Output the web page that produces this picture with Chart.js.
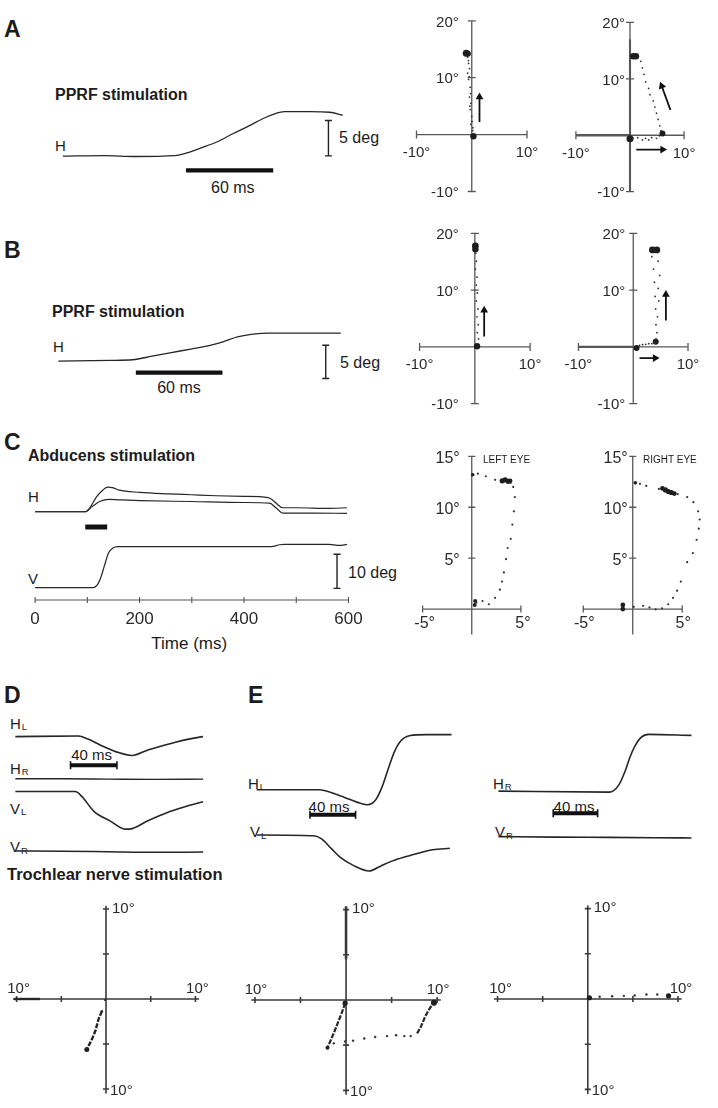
<!DOCTYPE html>
<html><head><meta charset="utf-8"><title>Eye movement responses to brainstem stimulation</title>
<script src="https://cdn.jsdelivr.net/npm/chart.js@4.4.1/dist/chart.umd.min.js"></script>
<style>
html,body{margin:0;padding:0;background:#fff;}
#root{position:relative;width:718px;height:1108px;overflow:hidden;background:#fff;font-family:"Liberation Sans",Arial,Helvetica,sans-serif;color:#1c1c1c;}
#root canvas{position:absolute;}
.t{position:absolute;white-space:nowrap;line-height:1;}
.s{font-size:9.5px;position:relative;top:1.5px;margin-left:1px;color:#1c1c1c;}
</style></head><body><div id="root"></div>
<script>
// ================= DATA =================
// Panel A : horizontal position trace (time ms, deg)
const A_T = [0, 28, 50, 77, 84.7, 89.1, 94.7, 105.8, 116.9, 128, 139, 145.8, 152.4, 170.2, 183.5, 192.5];
const A_H = [-0.04, 0.04, -0.08, 0.04, 0.38, 0.68, 1.1, 1.96, 3.12, 4.23, 5.38, 5.94, 6.24, 6.24, 6.15, 5.73];
// Panel A scatter (left eye-plot)
const AL_X = [-0.75, -0.6, -0.58, -0.41, -0.75, -0.45, -0.58, -0.29, -0.2, -0.41, -0.17, -0.35, -0.29, 0, 0.05, -0.17, 0.2, 0.17];
const AL_Y = [13.6, 13.0, 12.5, 11.6, 10.8, 10.2, 9.7, 8.3, 7.2, 6.6, 5.5, 5.0, 4.4, 3.2, 2.3, 1.8, 1.2, 0.7];
const AL_BX = [-1.0, -0.7, 0.3], AL_BY = [14.3, 14.2, -0.3];
// Panel A scatter (right eye-plot)
const AR_X = [2.0, 2.3, 2.6, 2.9, 3.45, 3.7, 4.3, 4.6, 4.9, 5.2, 5.5, 5.75, 0.57, 1.43, 2.3, 2.87, 3.45, 4.0, 4.9, 5.45];
const AR_Y = [13.1, 11.95, 10.8, 9.45, 8.3, 7.2, 6.1, 5.0, 3.9, 2.8, 1.67, 0.83, -0.55, -0.43, -0.83, -0.55, -0.83, -0.43, -0.55, -0.1];
const AR_BX = [0.6, 1.1, 6.0, 0.0], AR_BY = [14.0, 14.0, 0.3, -0.6];

// Panel B : horizontal trace
const B_T = [0, 35.8, 51.5, 64.9, 78.3, 91.7, 105.2, 114.1, 123, 127.5, 136.4, 145.4, 195.6];
const B_H = [0, 0.13, 0.22, 0.75, 1.3, 1.83, 2.4, 2.92, 3.61, 3.83, 4.13, 4.22, 4.22];
const BL_X = [0.17, 0.28, 0.1, 0.39, 0.28, 0.45, 0.28, 0.56, 0.39, 0.62, 0.45, 0.67];
const BL_Y = [16.5, 15.1, 13.7, 12.3, 10.9, 9.5, 8.1, 6.7, 5.3, 3.9, 2.5, 1.4];
const BL_BX = [0.1, 0.1, 0.4], BL_BY = [17.8, 17.2, 0.1];
const BR_X = [3.4, 4.54, 3.7, 4.83, 3.87, 4.54, 4.0, 4.66, 4.09, 4.43, 4.15, 4.32, 4.15, 1.14, 1.7, 2.28, 2.85, 3.4, 4.0];
const BR_Y = [15.9, 15.1, 13.7, 12.6, 11.4, 10.3, 8.9, 8.1, 6.7, 5.3, 3.9, 2.5, 1.4, 0.28, 0.39, 0.45, 0.56, 0.56, 0.67];
const BR_BX = [3.5, 4.3, 4.1, 0.6], BR_BY = [17.1, 17.1, 0.9, -0.2];

// Panel C : two horizontal traces and one vertical trace (ms, deg)
const C_T_H1 = [0, 96, 105, 117.5, 130, 139, 150, 160.8, 200.7, 254.7, 299, 347, 400, 446, 455, 464.7, 474, 501.5, 563, 597];
const C_H1   = [0, 0, 1.2, 4.36, 6.4, 7.25, 7.0, 6.35, 5.7, 5.26, 4.99, 4.7, 4.5, 4.17, 3.4, 2.07, 1.17, 1.17, 1.0, 1.17];
const C_T_H2 = [0, 96, 110, 123.7, 142, 160, 200.7, 299, 400, 449, 461, 474, 530, 597];
const C_H2   = [0, 0, 1.6, 3.0, 3.62, 3.5, 3.27, 3.0, 2.72, 2.53, 1.17, -0.38, -0.42, -0.46];
const C_T_V  = [0, 111, 120.6, 126.8, 133, 141, 148.4, 157.7, 254.7, 452.5, 468, 477, 563, 582, 597];
const C_V    = [0, 0, 1.2, 3.45, 6.6, 10.3, 11.6, 12.07, 12.07, 12.07, 12.6, 12.7, 12.7, 12.4, 12.7];
const C_STIM = [96, 138];
const TIME_TICKS = [0, 100, 200, 300, 400, 500, 600];
const TIME_LABEL_TICKS = [0, 200, 400, 600];
const TIME_LABELS = ['0', '200', '400', '600'];
// Panel C eye-plots
const CL_X = [0.48, 1.1, 1.74, 2.38, 2.86, 3.08, 3.27, 3.49, 3.65, 3.97, 4.13, 4.29, 4.38, 4.22, 3.97, 2.38, 1.43, 0.63];
const CL_Y = [0.63, 0.79, 0.47, 1.1, 1.9, 2.7, 3.6, 4.9, 6.0, 6.9, 8.3, 9.6, 11.0, 12.0, 12.4, 12.7, 13.05, 13.3];
const CL_BX = [3.1, 3.4, 3.7, 3.9, 0.3, 0.35, 0.1], CL_BY = [12.6, 12.7, 12.55, 12.6, 0.4, 0.8, 13.2];
const CR_X = [0.1, 1.05, 1.69, 2.32, 2.95, 3.59, 4.07, 4.48, 4.86, 5.5, 6.07, 6.45, 6.67, 6.76, 6.6, 6.13, 5.5, 4.54, 2.64, 1.37, 0.73];
const CR_Y = [0.22, 0.32, 0.16, -0.03, 0.07, 0.47, 1.1, 1.8, 2.7, 4.6, 5.5, 6.8, 7.9, 8.8, 9.6, 10.5, 11.0, 11.3, 11.8, 12.1, 12.3];
const CR_BX = [3.0, 3.3, 3.6, 3.9, 4.2, -1.0, -1.0, 0.26], CR_BY = [11.85, 11.7, 11.55, 11.45, 11.35, 0.0, 0.4, 12.4];

// Panel D : traces (ms, deg)
const D_T_HL = [0, 54.4, 62.6, 73.5, 87.1, 100.7, 114.3, 133.3, 149.6, 161.9];
const D_HL   = [-0.05, 0.05, -0.5, -1.6, -2.8, -3.45, -2.45, -1.33, -0.5, -0.05];
const D_T_VL = [0, 51.7, 57.1, 68, 81.6, 95.3, 100.7, 114.3, 133.3, 149.6, 161.9];
const D_VL   = [0, 0, -0.83, -3.6, -5.27, -6.77, -6.67, -5.27, -3.6, -2.5, -1.83];
const D_T_FLAT = [0, 40, 80, 120, 162];
const D_HR = [0.05, 0.05, 0, -0.05, 0];
const D_VR = [0.15, 0.1, 0, -0.1, -0.05];
// Panel D eye-plot
const DS_X = [-0.1, -0.46, -0.82, -1.18, -1.54, -2.15];
const DS_Y = [-0.1, -1.35, -2.2, -3.5, -4.4, -5.6];

// Panel E : traces
const E_T_HL = [0, 54.2, 73.6, 93, 97.2, 104.2, 109.7, 115.3, 120.8, 126.3, 134.7, 148.6, 170.8];
const E_HL   = [0, 0, -1.1, -2.55, -2.67, -1.83, 0.38, 3.7, 6.8, 8.7, 9.67, 9.83, 9.83];
const E_T_VL = [0, 50, 56.9, 65.3, 73.6, 84.7, 98.6, 109.7, 123.6, 137.5, 154.2, 169.4];
const E_VL   = [0.1, -0.05, -0.6, -2.3, -3.95, -5.33, -6.33, -5.33, -4.2, -3.4, -2.55, -2.28];
const E_T_HR = [0, 99.7, 108.3, 114, 118.3, 122.6, 128.2, 135.4, 173.8];
const E_HR   = [0, -0.17, 1.1, 3.6, 6.1, 8.07, 9.7, 10.28, 10.1];
const E_T_VR = [0, 50, 100, 140, 173.8];
const E_VR   = [0.1, 0, -0.05, -0.1, -0.15];
// Panel E eye-plots
const EL1_X = [-0.1, -0.5, -1.2, -2.04], EL1_Y = [-0.35, -1.5, -3.3, -5.3];
const EL_DX = [-1.34, -0.1, 0.77, 2.0, 3.2, 4.5, 5.5, 6.4, 7.1], EL_DY = [-4.8, -4.6, -4.5, -4.26, -4.1, -4.0, -3.9, -4.0, -4.0];
const EL2_X = [7.8, 8.2, 8.7, 9.2, 9.65], EL2_Y = [-3.7, -3.0, -1.8, -0.9, -0.3];
const ER_X = [1.32, 2.7, 4.0, 5.2, 6.5, 7.7], ER_Y = [0.25, 0.3, 0.35, 0.4, 0.5, 0.5];
const ER_BX = [0.18, 8.95], ER_BY = [0.14, 0.35];

// Tick values and tick labels
const AB_X_TICKS = [-10, 10], AB_X_LABELS = ['-10°', '10°'];
const AB_Y_TICKS = [20, 10, -10], AB_Y_LABELS = ['20°', '10°', '-10°'];
const C_X_TICKS = [-5, 5], C_X_LABELS = ['-5°', '5°'];
const C_Y_TICKS = [15, 10, 5], C_Y_LABELS = ['15°', '10°', '5°'];
const DE_TICKS = [-10, -5, 5, 10];
const DE_END_TICKS = [-10, 10], DE_END_LABELS = ['10°', '10°'];

// Scale-bar / marker placement (data units of each panel)
const BAR_A = {t: 84.7, y: -2.05, vt: 182.7};
const BAR_B = {t: 53.7, y: -1.73, vt: 185.2, vy: -2.6};
const BAR_C = {vt: 578, vy: -0.2, stimY: 17.8, axisY: -3.6};
const BAR_D = {t: 47.6, y: -5.2};
const BAR_EL = {t: 46.7, y: -4.45};
const BAR_ER = {t: 49.3, y: -4};
const OFF_C_H = 22.3;
const OFF_D = {HR: -7.7, VL: -9.95, VR: -20.8};
const OFF_EL_V = -8.17, OFF_ER_V = -8.33;

// ================= HELPERS =================
const root = document.getElementById('root');
const INK = '#262626';
function txt(html, x, base, o = {}) {
  const fs = o.size || 15;
  const d = document.createElement('div');
  d.className = 't';
  d.innerHTML = html;
  d.style.fontSize = fs + 'px';
  d.style.left = x + 'px';
  d.style.top = (base - 0.8465 * fs) + 'px';
  if (o.bold) d.style.fontWeight = 'bold';
  if (o.color) d.style.color = o.color;
  if (o.align === 'center') d.style.transform = 'translateX(-50%)';
  else if (o.align === 'right') d.style.transform = 'translateX(-100%)';
  root.appendChild(d);
}
const pts = (xs, ys, off = 0) => xs.map((x, i) => ({x, y: ys[i] + off}));
function trace(data, w = 1.3) {
  return {data, showLine: true, borderColor: INK, borderWidth: w, pointRadius: 0, cubicInterpolationMode: 'monotone', fill: false};
}
function seg(data, w, o = {}) {
  return Object.assign({data, showLine: true, borderColor: INK, borderWidth: w, pointRadius: 0, tension: 0, fill: false}, o);
}
function dots(data, r, color = '#333') {
  return {data, showLine: false, pointRadius: r, pointBackgroundColor: color, pointBorderColor: color, pointBorderWidth: 0};
}
function hbar(x0, len, y, w, cap) {
  return {data: [{x: x0, y}, {x: x0 + len, y}], showLine: true, borderColor: '#111', borderWidth: w,
    pointRadius: cap || 0, pointStyle: 'line', pointRotation: 90, pointBorderColor: '#111', pointBorderWidth: 1.6};
}
function vbar(x, y0, len, cap = 3.5) {
  return {data: [{x, y: y0}, {x, y: y0 + len}], showLine: true, borderColor: '#222', borderWidth: 1.4,
    pointRadius: cap, pointStyle: 'line', pointRotation: 0, pointBorderColor: '#222', pointBorderWidth: 1.4};
}
function arrow(x0, y0, x1, y1, rot) {
  return {data: [{x: x0, y: y0}, {x: x1, y: y1}], showLine: true, borderColor: '#111', borderWidth: 1.8,
    pointRadius: [0, 4.5], pointStyle: 'triangle', pointRotation: rot, pointBackgroundColor: '#111', pointBorderColor: '#111', pointBorderWidth: 0};
}
function axesPlugin(spec) {
  return {
    id: 'crossAxes',
    beforeDatasetsDraw(chart) {
      if (!spec) return;
      const ctx = chart.ctx, X = chart.scales.x, Y = chart.scales.y;
      ctx.save();
      ctx.strokeStyle = spec.color || '#555';
      spec.lines.forEach(ln => {
        ctx.lineWidth = ln.width || spec.width || 1.2;
        const tk = ln.tick != null ? ln.tick : (spec.tick || 3.5);
        ctx.beginPath();
        if (ln.axis === 'x') {
          const py = Y.getPixelForValue(ln.at || 0);
          ctx.moveTo(X.getPixelForValue(ln.from), py);
          ctx.lineTo(X.getPixelForValue(ln.to), py);
          (ln.ticks || []).forEach(v => { const px = X.getPixelForValue(v); ctx.moveTo(px, py - tk); ctx.lineTo(px, py + tk); });
        } else {
          const px = X.getPixelForValue(ln.at || 0);
          ctx.moveTo(px, Y.getPixelForValue(ln.from));
          ctx.lineTo(px, Y.getPixelForValue(ln.to));
          (ln.ticks || []).forEach(v => { const py = Y.getPixelForValue(v); ctx.moveTo(px - tk, py); ctx.lineTo(px + tk, py); });
        }
        ctx.stroke();
      });
      ctx.restore();
    }
  };
}
function panel(cfg) {
  const [l, t, w, h] = cfg.box, [ox, oy] = cfg.origin, [sx, sy] = cfg.ppu;
  const cv = document.createElement('canvas');
  cv.width = w; cv.height = h;
  Object.assign(cv.style, {left: l + 'px', top: t + 'px', width: w + 'px', height: h + 'px'});
  root.appendChild(cv);
  const chart = new Chart(cv.getContext('2d'), {
    type: 'scatter',
    data: {datasets: cfg.datasets},
    options: {
      responsive: false, maintainAspectRatio: false, animation: false, events: [], devicePixelRatio: 1,
      layout: {padding: 0},
      scales: {
        x: {type: 'linear', display: false, bounds: 'data', min: (l - ox) / sx, max: (l + w - ox) / sx},
        y: {type: 'linear', display: false, bounds: 'data', min: (oy - t - h) / sy, max: (oy - t) / sy}
      },
      plugins: {legend: {display: false}, tooltip: {enabled: false}, title: {display: false}}
    },
    plugins: [axesPlugin(cfg.axes)]
  });
  const X = chart.scales.x, Y = chart.scales.y;
  (cfg.labels || []).forEach(s => {
    s.values.forEach((v, i) => {
      const px = s.axis === 'x' ? X.getPixelForValue(v) : X.getPixelForValue(s.at || 0);
      const py = s.axis === 'x' ? Y.getPixelForValue(s.at || 0) : Y.getPixelForValue(v);
      txt(s.texts[i], l + px + (s.dx || 0), t + py + (s.dy || 0), {size: s.size || 15, align: s.align || 'center', color: '#2a2a2a'});
    });
  });
  return chart;
}
function abAxes(thickX, thickY) {
  const lines = [
    {axis: 'x', from: -10, to: 10, ticks: AB_X_TICKS},
    {axis: 'y', from: -10, to: 20, ticks: AB_Y_TICKS}
  ];
  if (thickX) lines.push({axis: 'x', from: -10, to: 0, width: 2.3, ticks: []});
  if (thickY) lines.push({axis: 'y', from: -10, to: 17, width: 2.1, ticks: []});
  return {color: '#585858', width: 1.3, tick: 4, lines};
}
function abLabels(ydx, xdy) {
  return [
    {axis: 'x', values: AB_X_TICKS, texts: AB_X_LABELS, dy: xdy, align: 'center'},
    {axis: 'y', values: AB_Y_TICKS, texts: AB_Y_LABELS, dx: ydx, dy: 5.5, align: 'right'}
  ];
}
function deAxes(thickY) {
  const lines = [
    {axis: 'x', from: -10.4, to: 10.4, ticks: DE_TICKS},
    {axis: 'y', from: -10.5, to: 10.35, ticks: DE_TICKS}
  ];
  if (thickY) lines.push({axis: 'y', from: 4.5, to: 10.35, width: 2.6, ticks: []});
  return {color: '#3a3a3a', width: 1.6, tick: 3, lines};
}
function deLabels(xdx) {
  return [
    {axis: 'x', values: DE_END_TICKS, texts: DE_END_LABELS, dx: xdx, dy: -6, align: 'center'},
    {axis: 'y', values: [10], texts: ['10°'], dx: 6, dy: 3.5, align: 'left'},
    {axis: 'y', values: [-10], texts: ['10°'], dx: 4, dy: 5.5, align: 'left'}
  ];
}

// ================= PANEL A =================
txt('A', 4, 37, {size: 23, bold: true});
txt('PPRF stimulation', 55, 100.5, {size: 16, bold: true});
txt('H', 55, 150.7, {size: 15});
txt('5 deg', 339, 143.5, {size: 16});
txt('60 ms', 232.8, 193.3, {size: 16, align: 'center'});
panel({box: [40, 85, 350, 120], origin: [58, 157], ppu: [1.5, 7.8], datasets: [
  trace(pts(A_T, A_H), 1.3),
  hbar(BAR_A.t, 60, BAR_A.y, 4.3, 0),
  vbar(BAR_A.vt, 0, 5)
]});
panel({box: [405, 10, 135, 192], origin: [471.7, 136], ppu: [5.92, 5.97], axes: abAxes(false, false), labels: abLabels(-13, 22), datasets: [
  dots(pts(AL_X, AL_Y), 0.9),
  dots(pts(AL_BX, AL_BY), [3.5, 3, 3.2], '#1e1e1e'),
  arrow(1.4, 2.2, 1.4, 6.6, 0)
]});
panel({box: [560, 10, 140, 192], origin: [630, 136.7], ppu: [5.78, 5.92], axes: abAxes(true, true), labels: abLabels(-5, 22), datasets: [
  dots(pts(AR_X, AR_Y), 0.9),
  dots(pts(AR_BX, AR_BY), [3.2, 3.2, 3, 3.5], '#1e1e1e'),
  arrow(7.47, 4.5, 5.86, 8.73, -20),
  arrow(1.16, -2.53, 6.03, -2.53, 90)
]});

// ================= PANEL B =================
txt('B', 4, 258.5, {size: 23, bold: true});
txt('PPRF stimulation', 52, 318, {size: 16, bold: true});
txt('H', 53, 352, {size: 15});
txt('60 ms', 179, 394, {size: 16, align: 'center'});
txt('5 deg', 340, 368.3, {size: 16});
panel({box: [40, 318, 350, 80], origin: [53.3, 361.7], ppu: [1.49, 7.67], datasets: [
  trace(pts(B_T, B_H), 1.3),
  hbar(BAR_B.t, 60, BAR_B.y, 4.3, 0),
  vbar(BAR_B.vt, BAR_B.vy, 5)
]});
panel({box: [405, 222, 135, 192], origin: [475, 348.3], ppu: [5.92, 5.95], axes: abAxes(false, false), labels: abLabels(-16, 21.7), datasets: [
  dots(pts(BL_X, BL_Y), 0.9),
  dots(pts(BL_BX, BL_BY), [3.4, 3.2, 3.2], '#1e1e1e'),
  arrow(1.69, 1.85, 1.69, 6.44, 0)
]});
panel({box: [565, 222, 135, 192], origin: [633.3, 348.3], ppu: [5.87, 5.95], axes: abAxes(true, false), labels: abLabels(-8, 21.7), datasets: [
  dots(pts(BR_X, BR_Y), 0.9),
  dots(pts(BR_BX, BR_BY), [3.4, 3.4, 3, 3], '#1e1e1e'),
  arrow(5.96, 4.64, 5.96, 9.24, 0),
  arrow(1.14, -1.97, 3.99, -1.97, 90)
]});

// ================= PANEL C =================
txt('C', 4, 450, {size: 23, bold: true});
txt('Abducens stimulation', 28, 461.7, {size: 16, bold: true});
txt('H', 28, 501.7, {size: 15});
txt('V', 28, 583.3, {size: 15});
txt('10 deg', 348, 578.3, {size: 16});
txt('Time (ms)', 189.2, 649, {size: 17, align: 'center'});
txt('LEFT EYE', 483, 463.3, {size: 10});
txt('RIGHT EYE', 643, 463.3, {size: 10});
panel({box: [20, 470, 350, 150], origin: [30, 591], ppu: [0.539, 3.67],
  axes: {color: '#555', width: 1.1, tick: 3, lines: [{axis: 'x', from: 0, to: 600, at: BAR_C.axisY, ticks: TIME_TICKS}]},
  labels: [{axis: 'x', values: TIME_LABEL_TICKS, texts: TIME_LABELS, at: BAR_C.axisY, dy: 24, size: 17, align: 'center'}],
  datasets: [
    trace(pts(C_T_H1, C_H1, OFF_C_H), 1.2),
    trace(pts(C_T_H2, C_H2, OFF_C_H), 1.2),
    trace(pts(C_T_V, C_V), 1.2),
    hbar(C_STIM[0], C_STIM[1] - C_STIM[0], BAR_C.stimY, 5, 0),
    vbar(BAR_C.vt, BAR_C.vy, 10)
  ]});
panel({box: [410, 445, 125, 200], origin: [471.7, 611.7], ppu: [10.5, 10.6],
  axes: {color: '#585858', width: 1.3, tick: 3.5, lines: [{axis: 'x', from: -5, to: 5, ticks: C_X_TICKS}, {axis: 'y', from: -2.5, to: 15, ticks: C_Y_TICKS}]},
  labels: [{axis: 'x', values: C_X_TICKS, texts: C_X_LABELS, dx: 2, dy: 20, size: 16}, {axis: 'y', values: C_Y_TICKS, texts: C_Y_LABELS, dx: -12, dy: 7, size: 16, align: 'right'}],
  datasets: [dots(pts(CL_X, CL_Y), 1.1), dots(pts(CL_BX, CL_BY), [2.6, 2.6, 2.6, 2.4, 2, 2, 1.8], '#1e1e1e')]});
panel({box: [570, 445, 140, 200], origin: [632.3, 611.7], ppu: [10.5, 10.6],
  axes: {color: '#585858', width: 1.3, tick: 3.5, lines: [{axis: 'x', from: -5, to: 5, ticks: C_X_TICKS}, {axis: 'y', from: -2.5, to: 15, ticks: C_Y_TICKS}]},
  labels: [{axis: 'x', values: C_X_TICKS, texts: C_X_LABELS, dx: 1, dy: 20, size: 16}, {axis: 'y', values: C_Y_TICKS, texts: C_Y_LABELS, dx: -5, dy: 7, size: 16, align: 'right'}],
  datasets: [dots(pts(CR_X, CR_Y), 1.1), dots(pts(CR_BX, CR_BY), [2.4, 2.6, 2.6, 2.6, 2.4, 2.4, 2.4, 1.8], '#1e1e1e')]});

// ================= PANEL D =================
txt('D', 4, 703, {size: 23, bold: true});
txt('H<span class="s">L</span>', 10, 728.3, {size: 15});
txt('40 ms', 91.7, 759.3, {size: 15, align: 'center'});
txt('H<span class="s">R</span>', 10, 773.3, {size: 15});
txt('V<span class="s">L</span>', 10, 813.3, {size: 15});
txt('V<span class="s">R</span>', 10, 851.7, {size: 15});
txt('Trochlear nerve stimulation', 7, 880, {size: 16.5, bold: true});
panel({box: [5, 715, 210, 150], origin: [10, 732], ppu: [1.225, 6], datasets: [
  trace(pts(D_T_HL, D_HL), 1.6),
  trace(pts(D_T_FLAT, D_HR, OFF_D.HR), 1.4),
  trace(pts(D_T_VL, D_VL, OFF_D.VL), 1.6),
  trace(pts(D_T_FLAT, D_VR, OFF_D.VR), 1.5),
  hbar(BAR_D.t, 40, BAR_D.y, 4, 4)
]});
panel({box: [3, 895, 207, 208], origin: [106, 999], ppu: [9.3, 9.36], axes: deAxes(false), labels: deLabels(2), datasets: [
  seg(pts(DS_X.slice(1), DS_Y.slice(1)), 2.4, {borderDash: [5, 1.5]}),
  dots(pts(DS_X.slice(0, 2), DS_Y.slice(0, 2)), 1.2),
  seg([{x: -10.3, y: 0}, {x: -7.4, y: 0}], 2.4),
  dots(pts([DS_X[5]], [DS_Y[5]]), 2.5, '#1e1e1e')
]});

// ================= PANEL E =================
txt('E', 248, 703, {size: 23, bold: true});
txt('H<span class="s">L</span>', 248, 788.3, {size: 15});
txt('40 ms', 329, 811.7, {size: 15, align: 'center'});
txt('V<span class="s">L</span>', 250, 836.7, {size: 15});
txt('H<span class="s">R</span>', 493, 788.3, {size: 15});
txt('40 ms', 574, 811.7, {size: 15, align: 'center'});
txt('V<span class="s">R</span>', 495, 836.7, {size: 15});
panel({box: [240, 715, 225, 170], origin: [251.7, 789], ppu: [1.2, 6], datasets: [
  trace(pts(E_T_HL, E_HL), 1.6),
  trace(pts(E_T_VL, E_VL, OFF_EL_V), 1.6),
  hbar(BAR_EL.t, 40, BAR_EL.y, 4, 4)
]});
panel({box: [485, 715, 220, 140], origin: [493.3, 791.7], ppu: [1.17, 6], datasets: [
  trace(pts(E_T_HR, E_HR), 1.6),
  trace(pts(E_T_VR, E_VR, OFF_ER_V), 1.6),
  hbar(BAR_ER.t, 40, BAR_ER.y, 4, 4)
]});
panel({box: [240, 895, 215, 208], origin: [346, 1000], ppu: [9.46, 9.4], axes: deAxes(true), labels: deLabels(1), datasets: [
  seg(pts(EL1_X, EL1_Y), 2.2, {borderDash: [5, 1.5]}),
  dots(pts(EL_DX, EL_DY), 1.2),
  seg(pts(EL2_X, EL2_Y), 2.2, {borderDash: [5, 1.5]}),
  dots(pts([EL1_X[0], EL2_X[4], EL1_X[3]], [EL1_Y[0], EL2_Y[4], EL1_Y[3]]), [2.6, 3, 2], '#1e1e1e')
]});
panel({box: [485, 895, 210, 208], origin: [587.7, 999], ppu: [9.38, 9.4], axes: deAxes(false), labels: deLabels(3), datasets: [
  dots(pts(ER_X, ER_Y), 1.2),
  dots(pts(ER_BX, ER_BY), [2.6, 2.6], '#1e1e1e')
]});
</script></body></html>
